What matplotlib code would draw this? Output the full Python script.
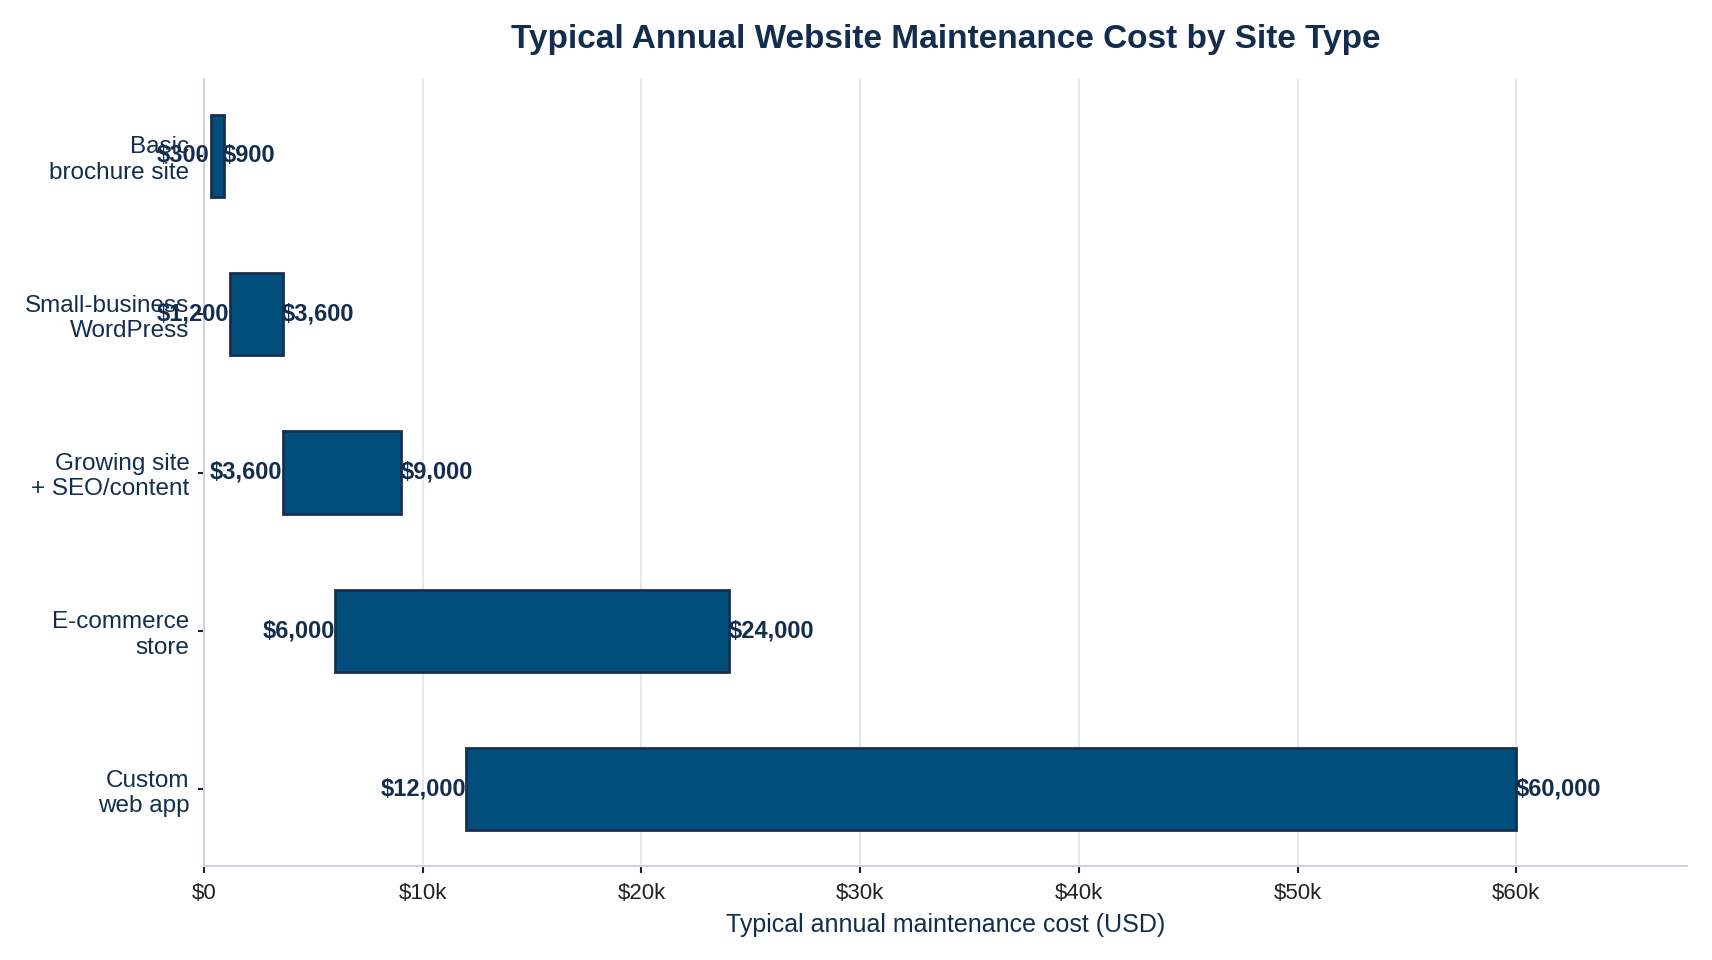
import matplotlib
matplotlib.use("Agg")
import matplotlib.pyplot as plt
from matplotlib.ticker import FuncFormatter

categories = ["Basic\nbrochure site", "Small-business\nWordPress", "Growing site\n+ SEO/content",
              "E-commerce\nstore", "Custom\nweb app"]
low_cost = [300, 1200, 3600, 6000, 12000]
high_cost = [900, 3600, 9000, 24000, 60000]
x_ticks = [0, 10000, 20000, 30000, 40000, 50000, 60000]

plt.rcParams['font.family'] = ['Liberation Sans', 'DejaVu Sans']
navy = "#132d4f"
bar_fill = "#024e7d"
bar_edge = "#17304f"

fig = plt.figure(figsize=(17.12, 9.6), dpi=100)
ax = fig.add_axes([204/1712, 1 - 866/960, (1687-204)/1712, (866-79)/960])

y = list(range(len(categories)))
widths = [h - l for l, h in zip(low_cost, high_cost)]
ax.barh(y, widths, left=low_cost, height=0.52, color=bar_fill, edgecolor=bar_edge, linewidth=2, zorder=3)

for yi, l, h in zip(y, low_cost, high_cost):
    ax.annotate(f"${l:,}", (l, yi), xytext=(-0.5, 0), textcoords="offset points",
                ha="right", va="center", fontsize=17, fontweight="bold", color=navy, zorder=4)
    ax.annotate(f"${h:,}", (h, yi), xytext=(-0.5, 0), textcoords="offset points",
                ha="left", va="center", fontsize=17, fontweight="bold", color=navy, zorder=4)

ax.set_yticks(y)
ax.set_yticklabels(categories, fontsize=17.5, color=navy)
ax.invert_yaxis()
ax.set_xlim(0, 67800)
ax.set_xticks(x_ticks)
ax.xaxis.set_major_formatter(FuncFormatter(lambda v, p: "$0" if v == 0 else f"${int(v/1000)}k"))
ax.tick_params(axis="x", labelsize=16, colors="#222222", length=5, width=1.5, pad=7)
ax.tick_params(axis="y", length=4, width=1.5, color="#222222", pad=6.5)
ax.set_xlabel("Typical annual maintenance cost (USD)", fontsize=18, color=navy, labelpad=7)
ax.set_title("Typical Annual Website Maintenance Cost by Site Type", fontsize=24,
             fontweight="bold", color=navy, pad=22)

ax.grid(axis="x", color="#e3e7ee", linewidth=1.3, zorder=0)
ax.set_axisbelow(True)
for s in ["top", "right"]:
    ax.spines[s].set_visible(False)
for s in ["left", "bottom"]:
    ax.spines[s].set_color("#cdd3dd")
    ax.spines[s].set_linewidth(1.5)

fig.savefig("out.png", dpi=100)
